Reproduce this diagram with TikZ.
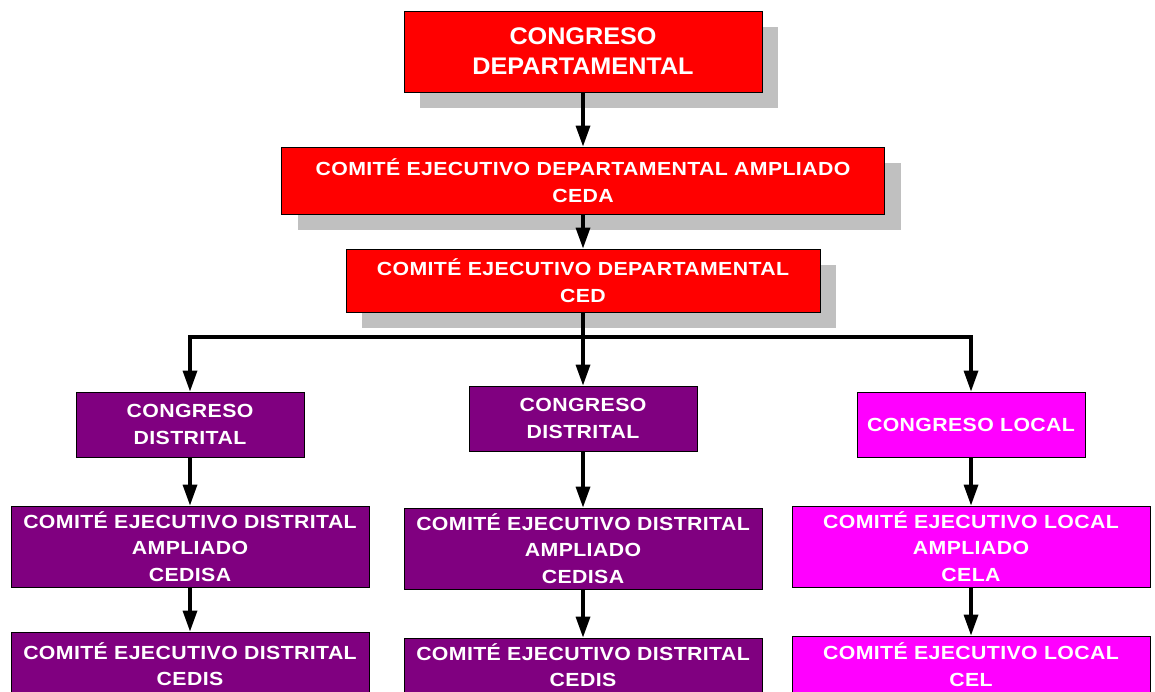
\documentclass[tikz,border=0pt]{standalone}
\usepackage{fontspec}
\setmainfont{Liberation Sans}
\newfontfamily\boxfont{Liberation Sans}[FakeStretch=1.12, LetterSpace=2]
\newfontfamily\topboxfont{Liberation Sans}[FakeStretch=1.05]
\usepackage{tikz}
\usetikzlibrary{arrows.meta,shadows}
\definecolor{deptred}{RGB}{255,0,0}
\definecolor{distpurple}{RGB}{128,0,128}
\definecolor{localpink}{RGB}{255,0,255}
\definecolor{shadowgray}{RGB}{192,192,192}

\begin{document}
\begin{tikzpicture}
            [every node/.style={inner sep=0pt},
             orgbox/.style={rectangle, draw=black, line width=0.8pt, text=white, align=center, font=\boxfont\bfseries\fontsize{19}{26.5}\selectfont},
             deptbox/.style={orgbox, fill=deptred, drop shadow={shadow xshift=16pt, shadow yshift=-16pt, fill=shadowgray, opacity=1}},
             distbox/.style={orgbox, fill=distpurple},
             localbox/.style={orgbox, fill=localpink},
             link/.style={line width=3.3pt, -{Triangle[width=14pt, length=21pt]}}]
                \useasboundingbox (0pt, 0pt) rectangle (1155pt, -692pt);
                \clip (0pt, 0pt) rectangle (1155pt, -692pt);
                \node (1) [deptbox, minimum width=358pt, minimum height=81pt, font=\topboxfont\bfseries\fontsize{24}{30}\selectfont] at (583pt, -51.5pt) {CONGRESO\\DEPARTAMENTAL};
                \node (2) [deptbox, minimum width=603pt, minimum height=67pt] at (583pt, -180.5pt) {COMITÉ EJECUTIVO DEPARTAMENTAL AMPLIADO\\CEDA};
                \node (3) [deptbox, minimum width=474pt, minimum height=63pt] at (583pt, -280.5pt) {COMITÉ EJECUTIVO DEPARTAMENTAL\\CED};
                \node (4) [distbox, minimum width=228pt, minimum height=65pt] at (190pt, -424.5pt) {CONGRESO\\DISTRITAL};
                \node (5) [distbox, minimum width=228pt, minimum height=65pt] at (583pt, -418.5pt) {CONGRESO\\DISTRITAL};
                \node (6) [localbox, minimum width=228pt, minimum height=65pt] at (971pt, -424.5pt) {CONGRESO LOCAL};
                \node (7) [distbox, minimum width=358pt, minimum height=81pt] at (190pt, -546.5pt) {COMITÉ EJECUTIVO DISTRITAL\\AMPLIADO\\CEDISA};
                \node (8) [distbox, minimum width=358pt, minimum height=81pt] at (583pt, -548.5pt) {COMITÉ EJECUTIVO DISTRITAL\\AMPLIADO\\CEDISA};
                \node (9) [localbox, minimum width=358pt, minimum height=81pt] at (971pt, -546.5pt) {COMITÉ EJECUTIVO LOCAL\\AMPLIADO\\CELA};
                \node (10) [distbox, minimum width=358pt, minimum height=64pt] at (190pt, -664pt) {COMITÉ EJECUTIVO DISTRITAL\\CEDIS};
                \node (11) [distbox, minimum width=358pt, minimum height=54pt] at (583pt, -665pt) {COMITÉ EJECUTIVO DISTRITAL\\CEDIS};
                \node (12) [localbox, minimum width=358pt, minimum height=57pt] at (971pt, -664.5pt) {COMITÉ EJECUTIVO LOCAL\\CEL};
                \coordinate (bus) at (583pt, -337pt);
                \draw [link] (1) to (2);
                \draw [link] (2) to (3);
                \draw [link] (3) to (5);
                \draw [link] (bus) -| (4);
                \draw [link] (bus) -| (6);
                \draw [link] (4) to (7);
                \draw [link] (5) to (8);
                \draw [link] (6) to (9);
                \draw [link] (7) to (10);
                \draw [link] (8) to (11);
                \draw [link] (9) to (12);
            \end{tikzpicture}
\end{document}
